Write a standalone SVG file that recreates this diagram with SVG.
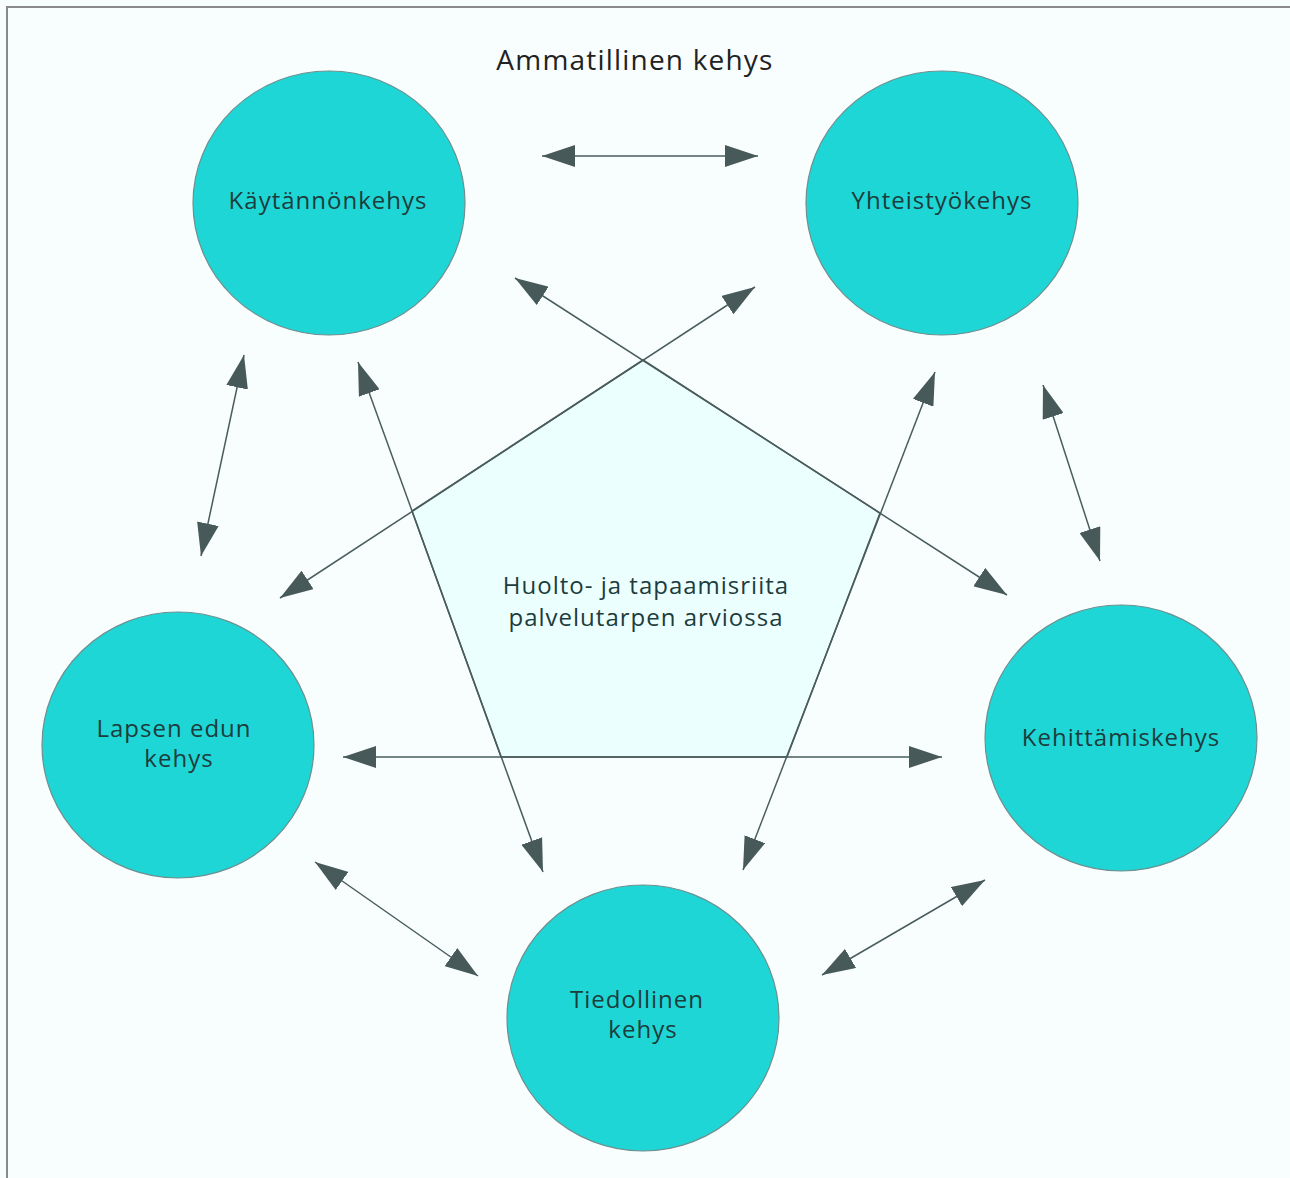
<svg xmlns="http://www.w3.org/2000/svg" width="1290" height="1178" viewBox="0 0 1290 1178">
<defs>
<style>
.bg{fill:#f8fefe}
.frame{fill:none;stroke:#8a8a8a;stroke-width:2}
.node{fill:#1fd6d6;stroke:#6f8f8f;stroke-width:1.2}
.lbl{font-family:"Open Sans","Liberation Sans",sans-serif;font-size:24px;letter-spacing:1px;fill:#1d3c3c;text-anchor:middle}
.title{font-family:"Open Sans","Liberation Sans",sans-serif;font-size:28px;letter-spacing:1.2px;fill:#222;text-anchor:middle}
.pent{fill:#ecffff;stroke:#4a5c5c;stroke-width:1.5}
.conn{stroke:#4a5c5c;stroke-width:1.5;fill:none;marker-start:url(#ah);marker-end:url(#ah)}
</style>
<marker id="ah" viewBox="0 0 33 22" refX="33" refY="11" markerWidth="33" markerHeight="22" markerUnits="userSpaceOnUse" orient="auto-start-reverse">
<path d="M0,0 L33,11 L0,22 Z" fill="#475959"/>
</marker>
</defs>
<rect class="bg" x="0" y="0" width="1290" height="1178"/>
<path class="frame" d="M7,1178 V7 H1290"/>
<text class="title" x="635" y="70">Ammatillinen kehys</text>
<g id="center">
<polygon class="pent" points="643,360 880,513 787,757 501,757 412,511"/>
<text class="lbl" x="646" y="594">Huolto- ja tapaamisriita</text>
<text class="lbl" x="646" y="626">palvelutarpen arviossa</text>
</g>
<g id="connectors">
<line class="conn" x1="542" y1="156" x2="758" y2="156"/>
<line class="conn" x1="244" y1="355" x2="201" y2="556"/>
<line class="conn" x1="358" y1="362" x2="543" y2="872"/>
<line class="conn" x1="515" y1="278" x2="1007" y2="595"/>
<line class="conn" x1="755" y1="287" x2="280" y2="598"/>
<line class="conn" x1="935" y1="372" x2="743" y2="870"/>
<line class="conn" x1="1043" y1="385" x2="1100" y2="561"/>
<line class="conn" x1="343" y1="757" x2="942" y2="757"/>
<line class="conn" x1="315" y1="862" x2="478" y2="976"/>
<line class="conn" x1="985" y1="880" x2="822" y2="975"/>
</g>
<g id="kaytannonkehys">
<ellipse class="node" cx="329" cy="203" rx="136" ry="132"/>
<text class="lbl" x="328" y="209">Käytännönkehys</text>
</g>
<g id="yhteistyokehys">
<ellipse class="node" cx="942" cy="203" rx="136" ry="132"/>
<text class="lbl" x="942" y="209">Yhteistyökehys</text>
</g>
<g id="lapsen-edun-kehys">
<ellipse class="node" cx="178" cy="745" rx="136" ry="133"/>
<text class="lbl" x="174" y="737">Lapsen edun</text>
<text class="lbl" x="179" y="767">kehys</text>
</g>
<g id="kehittamiskehys">
<ellipse class="node" cx="1121" cy="738" rx="136" ry="133"/>
<text class="lbl" x="1121" y="746">Kehittämiskehys</text>
</g>
<g id="tiedollinen-kehys">
<ellipse class="node" cx="643" cy="1018" rx="136" ry="133"/>
<text class="lbl" x="637" y="1008">Tiedollinen</text>
<text class="lbl" x="643" y="1038">kehys</text>
</g>
</svg>
